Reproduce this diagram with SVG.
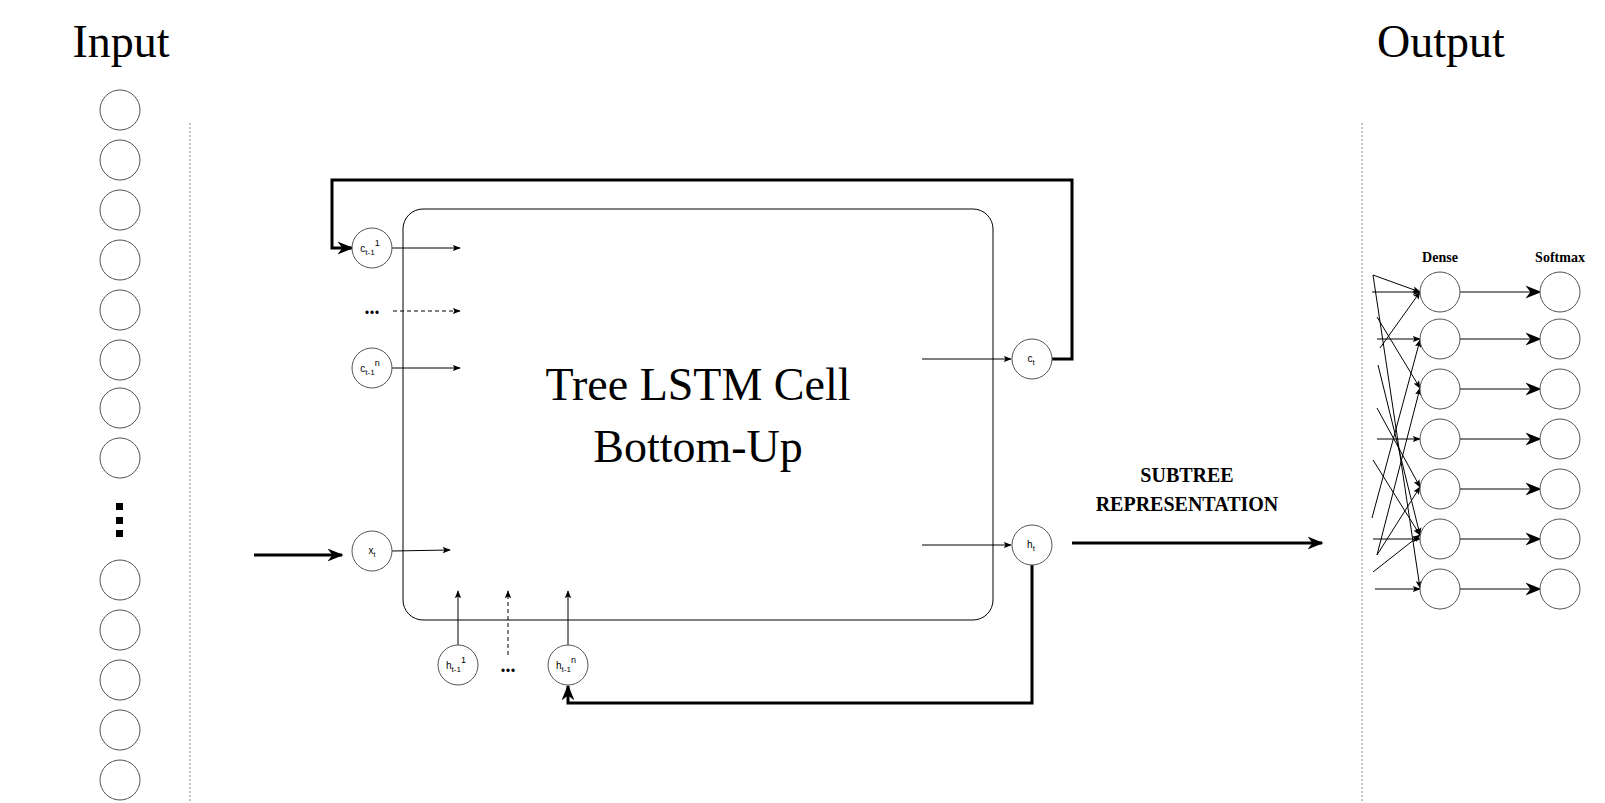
<svg xmlns="http://www.w3.org/2000/svg" width="1605" height="803" viewBox="0 0 1605 803">
<defs>
<style>
.n{fill:#fff;stroke:#555;stroke-width:1}
.l{stroke:#000;stroke-width:1;fill:none}
.t{stroke:#000;stroke-width:3;fill:none}
.d{stroke:#000;stroke-width:1;fill:none;stroke-dasharray:4 3}
.s{font-family:"Liberation Sans",Arial,sans-serif;font-size:10px;text-anchor:middle}
.serif{font-family:"Liberation Serif","Times New Roman",serif;text-anchor:middle}
</style>
<marker id="a" viewBox="0 0 10 10" refX="9" refY="5" markerWidth="8" markerHeight="8" markerUnits="userSpaceOnUse" orient="auto"><path d="M0,1 L10,5 L0,9 L2,5z" fill="#000"/></marker>
<marker id="A" viewBox="0 0 10 10" refX="9" refY="5" markerWidth="16" markerHeight="16" markerUnits="userSpaceOnUse" orient="auto"><path d="M0,1 L10,5 L0,9 L3,5z" fill="#000"/></marker>
</defs>
<rect width="1605" height="803" fill="#fff"/>
<text class="serif" x="121" y="57" font-size="46">Input</text>
<text class="serif" x="1441" y="57" font-size="46">Output</text>
<line x1="190" y1="123" x2="190" y2="803" stroke="#888" stroke-dasharray="2 2"/>
<line x1="1362" y1="123" x2="1362" y2="803" stroke="#888" stroke-dasharray="2 2"/>
<g id="input-layer">
<circle class="n" cx="120" cy="110" r="20"/><circle class="n" cx="120" cy="160" r="20"/><circle class="n" cx="120" cy="210" r="20"/><circle class="n" cx="120" cy="260" r="20"/><circle class="n" cx="120" cy="310" r="20"/><circle class="n" cx="120" cy="360" r="20"/><circle class="n" cx="120" cy="408" r="20"/><circle class="n" cx="120" cy="458" r="20"/>
<rect x="116" y="503" width="7" height="7"/><rect x="116" y="517" width="7" height="7"/><rect x="116" y="530" width="7" height="7"/>
<circle class="n" cx="120" cy="580" r="20"/><circle class="n" cx="120" cy="630" r="20"/><circle class="n" cx="120" cy="680" r="20"/><circle class="n" cx="120" cy="730" r="20"/><circle class="n" cx="120" cy="780" r="20"/>
</g>
<g id="cell"><rect x="403" y="209" width="590" height="411" rx="20" fill="none" stroke="#000"/>
<text class="serif" x="698" y="400" font-size="46">Tree LSTM Cell</text>
<text class="serif" x="698" y="462" font-size="46">Bottom-Up</text></g>
<g id="connectors">
<path class="t" d="M1052,359 H1072 V180 H332 V248 H352" marker-end="url(#A)"/>
<path class="t" d="M1032,565 V703 H568 V686" marker-end="url(#A)"/>
<line class="t" x1="254" y1="555" x2="342" y2="555" marker-end="url(#A)"/>
<line class="t" x1="1072" y1="543" x2="1322" y2="543" marker-end="url(#A)"/>
<line class="l" x1="392" y1="248" x2="460" y2="248" marker-end="url(#a)"/>
<line class="d" x1="393" y1="311" x2="460" y2="311" marker-end="url(#a)"/>
<line class="l" x1="392" y1="368" x2="460" y2="368" marker-end="url(#a)"/>
<line class="l" x1="392" y1="551" x2="450" y2="550" marker-end="url(#a)"/>
<line class="l" x1="922" y1="359" x2="1011" y2="359" marker-end="url(#a)"/>
<line class="l" x1="922" y1="545" x2="1011" y2="545" marker-end="url(#a)"/>
<line class="l" x1="458" y1="645" x2="458" y2="591" marker-end="url(#a)"/>
<line class="d" x1="508" y1="655" x2="508" y2="591" marker-end="url(#a)"/>
<line class="l" x1="568" y1="645" x2="568" y2="591" marker-end="url(#a)"/>
<g class="l" marker-end="url(#a)">
<line x1="1373" y1="275" x2="1420" y2="292"/><line x1="1372" y1="292" x2="1420" y2="292"/><line x1="1380" y1="348" x2="1420" y2="292"/>
<line x1="1377" y1="339" x2="1420" y2="339"/><line x1="1372" y1="518" x2="1420" y2="340"/>
<line x1="1377" y1="317" x2="1420" y2="388"/><line x1="1377" y1="555" x2="1420" y2="388"/>
<line x1="1377" y1="439" x2="1420" y2="439"/>
<line x1="1377" y1="408" x2="1420" y2="487"/><line x1="1377" y1="555" x2="1420" y2="487"/>
<line x1="1378" y1="365" x2="1420" y2="535"/><line x1="1373" y1="460" x2="1420" y2="535"/><line x1="1373" y1="572" x2="1420" y2="535"/><line x1="1373" y1="539" x2="1420" y2="539"/>
<line x1="1373" y1="275" x2="1420" y2="588"/><line x1="1375" y1="589" x2="1420" y2="589"/>
</g>
<g class="l" marker-end="url(#A)">
<line x1="1460" y1="292" x2="1540" y2="292"/><line x1="1460" y1="339" x2="1540" y2="339"/><line x1="1460" y1="389" x2="1540" y2="389"/><line x1="1460" y1="439" x2="1540" y2="439"/><line x1="1460" y1="489" x2="1540" y2="489"/><line x1="1460" y1="539" x2="1540" y2="539"/><line x1="1460" y1="589" x2="1540" y2="589"/>
</g>
</g>
<g id="c1"><circle class="n" cx="372" cy="248" r="20"/><text class="s" x="370" y="252">c<tspan dy="3" font-size="8">t-1</tspan><tspan dy="-9" font-size="9">1</tspan></text></g>
<g id="cdots"><text class="serif" x="372" y="314" font-size="20" font-weight="bold">...</text></g>
<g id="cn"><circle class="n" cx="372" cy="368" r="20"/><text class="s" x="370" y="372">c<tspan dy="3" font-size="8">t-1</tspan><tspan dy="-9" font-size="9">n</tspan></text></g>
<g id="xt"><circle class="n" cx="372" cy="551" r="20"/><text class="s" x="372" y="554">x<tspan dy="3" font-size="7">t</tspan></text></g>
<g id="h1"><circle class="n" cx="458" cy="665" r="20"/><text class="s" x="456" y="669">h<tspan dy="3" font-size="8">t-1</tspan><tspan dy="-9" font-size="9">1</tspan></text></g>
<g id="hdots"><text class="serif" x="508" y="672" font-size="20" font-weight="bold">...</text></g>
<g id="hn"><circle class="n" cx="568" cy="665" r="20"/><text class="s" x="566" y="669">h<tspan dy="3" font-size="8">t-1</tspan><tspan dy="-9" font-size="9">n</tspan></text></g>
<g id="ct"><circle class="n" cx="1032" cy="359" r="20"/><text class="s" x="1031" y="362">c<tspan dy="3" font-size="8">t</tspan></text></g>
<g id="ht"><circle class="n" cx="1032" cy="545" r="20"/><text class="s" x="1031" y="548">h<tspan dy="3" font-size="8">t</tspan></text></g>
<g id="subtree-label"><text class="serif" x="1187" y="482" font-size="20" font-weight="bold">SUBTREE</text><text class="serif" x="1187" y="511" font-size="20" font-weight="bold">REPRESENTATION</text></g>
<g id="dense"><text class="serif" x="1440" y="262" font-size="14" font-weight="bold">Dense</text>
<circle class="n" cx="1440" cy="292" r="20"/><circle class="n" cx="1440" cy="339" r="20"/><circle class="n" cx="1440" cy="389" r="20"/><circle class="n" cx="1440" cy="439" r="20"/><circle class="n" cx="1440" cy="489" r="20"/><circle class="n" cx="1440" cy="539" r="20"/><circle class="n" cx="1440" cy="589" r="20"/></g>
<g id="softmax"><text class="serif" x="1560" y="262" font-size="14" font-weight="bold">Softmax</text>
<circle class="n" cx="1560" cy="292" r="20"/><circle class="n" cx="1560" cy="339" r="20"/><circle class="n" cx="1560" cy="389" r="20"/><circle class="n" cx="1560" cy="439" r="20"/><circle class="n" cx="1560" cy="489" r="20"/><circle class="n" cx="1560" cy="539" r="20"/><circle class="n" cx="1560" cy="589" r="20"/></g>
</svg>
